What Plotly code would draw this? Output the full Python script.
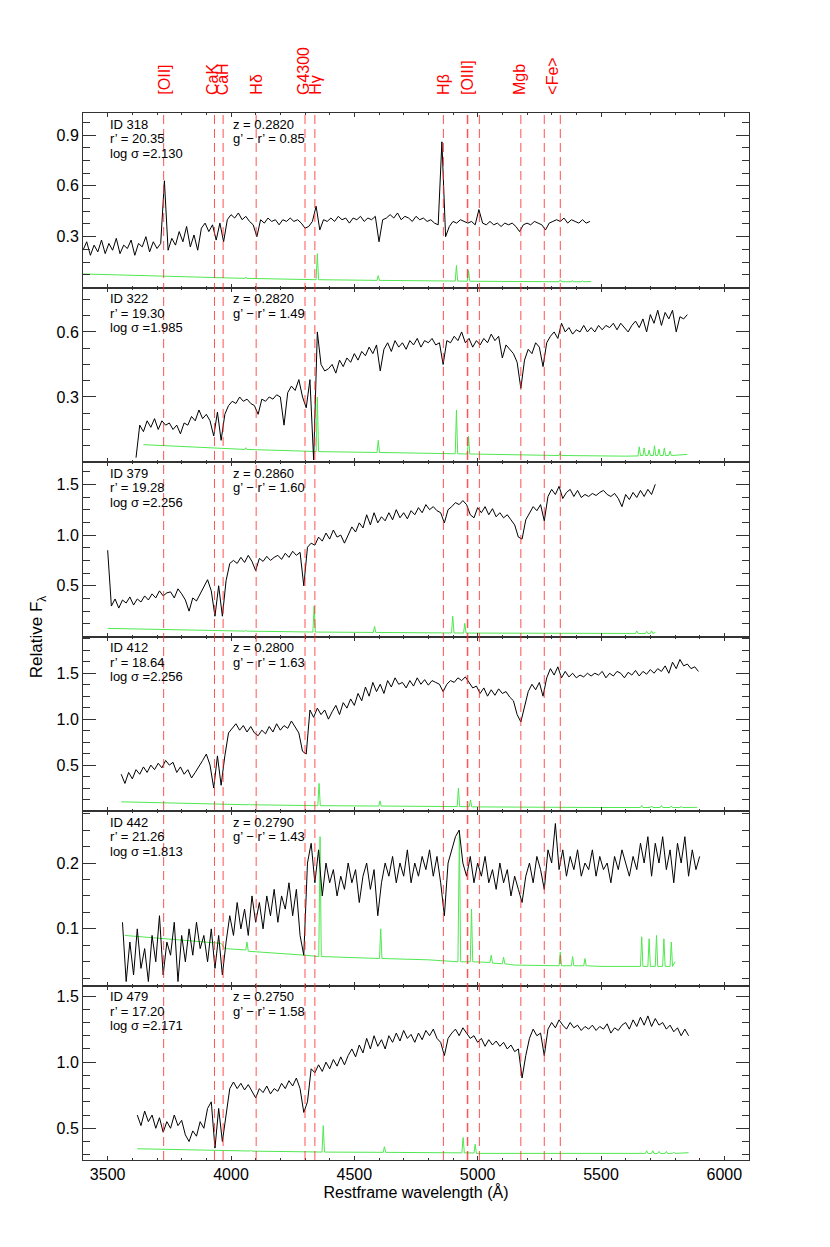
import plotly.graph_objects as go
from plotly.subplots import make_subplots

# spectral features (restframe, Angstrom)
FEATURE_WAVE = [3727, 3933, 3968, 4102, 4300, 4340, 4861, 4959, 5007, 5175, 5270, 5335]
LABEL_WAVE = [3727, 3925, 3965, 4102, 4292, 4340, 4861, 4959, 5170, 5302]
LABEL_TEXT = ["[OII]", "CaK", "CaH", "Hδ", "G4300", "Hγ", "Hβ", "[OIII]", "Mgb", "&lt;Fe&gt;"]

# galaxy info per panel
GAL_ID = ["318", "322", "379", "412", "442", "479"]
R_MAG = ["20.35", "19.30", "19.28", "18.64", "21.26", "17.20"]
LOG_SIGMA = ["2.130", "1.985", "2.256", "2.256", "1.813", "2.171"]
REDSHIFT = ["0.2820", "0.2820", "0.2860", "0.2800", "0.2790", "0.2750"]
G_R = ["0.85", "1.49", "1.60", "1.63", "1.43", "1.58"]

# panel y ranges and ticks
Y_RANGE = [[0, 1.03], [0, 0.805], [0, 1.72], [0, 1.9], [0.014, 0.279], [0.26, 1.58]]
Y_TICKS = [[0.3, 0.6, 0.9], [0.3, 0.6], [0.5, 1.0, 1.5], [0.5, 1.0, 1.5], [0.1, 0.2], [0.5, 1.0, 1.5]]
Y_MINOR = [0.075, 0.075, 0.125, 0.125, 0.025, 0.1]

STEP = 15  # Angstrom sampling of the object spectra

start_318 = 3400
flux_318 = [0.22, 0.27, 0.19, 0.25, 0.21, 0.28, 0.2, 0.26, 0.22, 0.29, 0.2, 0.25, 0.23, 0.28, 0.19, 0.26,
            0.24, 0.3, 0.21, 0.27, 0.23, 0.26, 0.63, 0.22, 0.29, 0.25, 0.33, 0.27, 0.36, 0.24, 0.31, 0.22,
            0.35, 0.38, 0.33, 0.37, 0.28, 0.38, 0.27, 0.4, 0.43, 0.41, 0.44, 0.4, 0.42, 0.39, 0.37, 0.3,
            0.4, 0.38, 0.41, 0.39, 0.4, 0.37, 0.4, 0.39, 0.41, 0.39, 0.4, 0.38, 0.35, 0.36, 0.39, 0.48,
            0.34, 0.4, 0.39, 0.41, 0.39, 0.42, 0.4, 0.41, 0.38, 0.41, 0.4, 0.42, 0.39, 0.41, 0.4, 0.42,
            0.27, 0.4, 0.41, 0.43, 0.41, 0.44, 0.4, 0.42, 0.41, 0.39, 0.42, 0.4, 0.41, 0.39, 0.4, 0.38,
            0.37, 0.86, 0.3, 0.36, 0.39, 0.38, 0.4, 0.39, 0.38, 0.39, 0.37, 0.46, 0.38, 0.37, 0.39, 0.37,
            0.38, 0.36, 0.38, 0.37, 0.38, 0.36, 0.33, 0.37, 0.38, 0.37, 0.39, 0.38, 0.37, 0.34, 0.38, 0.39,
            0.4, 0.39, 0.41, 0.38, 0.4, 0.39, 0.38, 0.4, 0.38, 0.39]

start_322 = 3615
flux_322 = [0.02, 0.17, 0.14, 0.19, 0.16, 0.2, 0.15, 0.19, 0.17, 0.18, 0.15, 0.17, 0.13, 0.18, 0.17, 0.21,
            0.19, 0.24, 0.2, 0.22, 0.19, 0.12, 0.23, 0.1, 0.22, 0.26, 0.28, 0.27, 0.3, 0.28, 0.29, 0.27,
            0.26, 0.22, 0.29, 0.28, 0.3, 0.29, 0.31, 0.3, 0.17, 0.32, 0.35, 0.33, 0.38, 0.3, 0.25, 0.38,
            0.01, 0.6, 0.45, 0.42, 0.43, 0.45, 0.41, 0.47, 0.44, 0.48, 0.46, 0.5, 0.47, 0.51, 0.49, 0.53,
            0.5, 0.54, 0.42, 0.52, 0.55, 0.51, 0.56, 0.53, 0.55, 0.52, 0.56, 0.54, 0.57, 0.53, 0.56, 0.55,
            0.57, 0.54, 0.55, 0.45, 0.56, 0.55, 0.58, 0.56, 0.6, 0.55, 0.57, 0.53, 0.56, 0.54, 0.57, 0.55,
            0.59, 0.56, 0.58, 0.48, 0.54, 0.52, 0.5, 0.46, 0.34, 0.47, 0.52, 0.5, 0.55, 0.53, 0.44, 0.55,
            0.58, 0.6, 0.57, 0.64, 0.6, 0.62, 0.59, 0.61, 0.6, 0.63, 0.6, 0.62, 0.6, 0.63, 0.61, 0.63,
            0.62, 0.64, 0.61, 0.64, 0.62, 0.6, 0.63, 0.65, 0.62, 0.66, 0.6, 0.68, 0.64, 0.7, 0.63, 0.69,
            0.66, 0.7, 0.6, 0.67, 0.66, 0.68]

start_379 = 3500
flux_379 = [0.85, 0.3, 0.37, 0.28, 0.36, 0.33, 0.39, 0.31, 0.37, 0.34, 0.4, 0.36, 0.42, 0.38, 0.45, 0.4,
            0.43, 0.44, 0.38, 0.47, 0.42, 0.36, 0.25, 0.38, 0.35, 0.42, 0.5, 0.56, 0.45, 0.2, 0.5, 0.2,
            0.55, 0.72, 0.75, 0.72, 0.78, 0.73, 0.8, 0.74, 0.65, 0.77, 0.74, 0.79, 0.75, 0.78, 0.8, 0.76,
            0.82, 0.78, 0.84, 0.8, 0.83, 0.5, 0.88, 0.92, 0.9, 0.98, 0.94, 1.02, 0.96, 1.05, 0.98, 1.0,
            0.92, 1.0, 1.08, 1.03, 1.12, 1.07, 1.2, 1.1, 1.22, 1.12, 1.18, 1.14, 1.22, 1.15, 1.25, 1.17,
            1.22, 1.16, 1.24, 1.2, 1.27, 1.22, 1.3, 1.25, 1.28, 1.24, 1.22, 1.12, 1.25, 1.28, 1.32, 1.3,
            1.34, 1.3, 1.2, 1.17, 1.27, 1.22, 1.28, 1.2, 1.26, 1.18, 1.22, 1.17, 1.2, 1.15, 1.1, 0.98,
            0.96, 1.15, 1.22, 1.28, 1.24, 1.3, 1.14, 1.38, 1.45, 1.4, 1.48, 1.36, 1.42, 1.45, 1.38, 1.44,
            1.37, 1.4, 1.38, 1.41, 1.39, 1.42, 1.44, 1.4, 1.38, 1.41, 1.36, 1.28, 1.4, 1.35, 1.42, 1.37,
            1.44, 1.38, 1.45, 1.4, 1.5]

start_412 = 3555
flux_412 = [0.4, 0.3, 0.42, 0.35, 0.45, 0.4, 0.48, 0.42, 0.5, 0.45, 0.52, 0.47, 0.55, 0.5, 0.53, 0.42,
            0.48, 0.4, 0.45, 0.36, 0.42, 0.48, 0.55, 0.62, 0.5, 0.25, 0.6, 0.28, 0.6, 0.85, 0.9, 0.95,
            0.88, 0.93, 0.86, 0.92, 0.85, 0.82, 0.88, 0.84, 0.92, 0.86, 0.95, 0.88, 0.93, 0.9, 0.98, 0.92,
            0.85, 0.65, 0.62, 1.1, 1.02, 1.12, 1.05, 1.1, 1.0, 1.08, 1.15, 1.05, 1.18, 1.12, 1.22, 1.15,
            1.28, 1.2, 1.35, 1.25, 1.4, 1.3, 1.38, 1.28, 1.42, 1.35, 1.45, 1.38, 1.4, 1.34, 1.42, 1.36,
            1.45, 1.38, 1.43, 1.37, 1.42, 1.4, 1.38, 1.3, 1.38, 1.42, 1.4, 1.45, 1.42, 1.46, 1.4, 1.34,
            1.36, 1.28, 1.34, 1.25, 1.32, 1.26, 1.33, 1.28, 1.3, 1.24, 1.2, 1.05, 0.97, 1.15, 1.3, 1.38,
            1.32, 1.4, 1.25, 1.45, 1.55, 1.48, 1.57, 1.45, 1.52, 1.46, 1.5, 1.45, 1.48, 1.46, 1.5, 1.47,
            1.5, 1.48, 1.52, 1.45, 1.5, 1.47, 1.52, 1.5, 1.45, 1.51, 1.48, 1.53, 1.47, 1.52, 1.49, 1.54,
            1.5, 1.55, 1.52, 1.58, 1.5, 1.62, 1.55, 1.65, 1.58, 1.6, 1.55, 1.57, 1.52]

start_442 = 3560
flux_442 = [0.11, 0.02, 0.08, 0.03, 0.1, 0.04, 0.07, 0.02, 0.09, 0.05, 0.12, 0.03, 0.08, 0.06, 0.11, 0.02,
            0.09, 0.05, 0.1, 0.06, 0.11, 0.07, 0.09, 0.05, 0.1, 0.04, 0.09, 0.03, 0.08, 0.12, 0.09, 0.14,
            0.1, 0.13, 0.09, 0.15, 0.11, 0.14, 0.1, 0.15, 0.12, 0.16, 0.11, 0.15, 0.13, 0.17, 0.12, 0.16,
            0.09, 0.06, 0.2, 0.23, 0.17, 0.22, 0.15, 0.2, 0.17, 0.19, 0.15, 0.18, 0.16, 0.2, 0.17, 0.19,
            0.14, 0.18, 0.2, 0.16, 0.19, 0.12, 0.17, 0.2, 0.18, 0.21, 0.17, 0.2, 0.18, 0.22, 0.17, 0.2,
            0.18, 0.21, 0.19, 0.22, 0.18, 0.21, 0.17, 0.12, 0.2, 0.22, 0.24, 0.25, 0.2, 0.18, 0.21, 0.17,
            0.2, 0.18, 0.21, 0.17, 0.19, 0.16, 0.2, 0.17, 0.19, 0.15, 0.18, 0.16, 0.14, 0.18, 0.2, 0.17,
            0.21, 0.19, 0.16, 0.22, 0.2, 0.26, 0.19, 0.22, 0.18, 0.21, 0.19, 0.22, 0.18, 0.2, 0.19, 0.22,
            0.18, 0.21, 0.19, 0.2, 0.17, 0.21, 0.19, 0.22, 0.2, 0.18, 0.21, 0.19, 0.23, 0.2, 0.24, 0.18,
            0.23, 0.2, 0.24, 0.19, 0.22, 0.17, 0.23, 0.2, 0.24, 0.18, 0.22, 0.19, 0.21]

start_479 = 3620
flux_479 = [0.6, 0.52, 0.63, 0.55, 0.6, 0.5, 0.58, 0.47, 0.55, 0.5, 0.6, 0.52, 0.56, 0.45, 0.4, 0.48,
            0.44, 0.55, 0.5, 0.65, 0.7, 0.35, 0.65, 0.4, 0.6, 0.8, 0.85, 0.8, 0.84, 0.79, 0.83, 0.78,
            0.73, 0.8, 0.77, 0.82, 0.76, 0.8, 0.78, 0.84, 0.8, 0.86, 0.82, 0.88, 0.8, 0.62, 0.7, 0.95,
            0.92, 0.98, 0.93, 1.0, 0.95, 1.02, 0.97, 1.04, 0.98, 1.05, 1.1, 1.04, 1.13, 1.07, 1.18, 1.1,
            1.2, 1.12, 1.17, 1.1, 1.2, 1.15, 1.22, 1.16, 1.24, 1.18, 1.21, 1.15, 1.22, 1.17, 1.24, 1.2,
            1.25, 1.18, 1.15, 1.05, 1.18, 1.22, 1.25, 1.2, 1.26, 1.22, 1.18, 1.2, 1.15, 1.18, 1.12, 1.17,
            1.13, 1.16, 1.12, 1.15, 1.1, 1.13, 1.08, 1.1, 0.88, 1.05, 1.18, 1.25, 1.2, 1.22, 1.05, 1.25,
            1.3, 1.26, 1.32, 1.28, 1.25, 1.3, 1.26, 1.28, 1.24, 1.27, 1.25, 1.28, 1.24, 1.27, 1.25, 1.29,
            1.22, 1.26, 1.24, 1.28, 1.3, 1.25, 1.32, 1.27, 1.34, 1.28, 1.35, 1.27, 1.33, 1.28, 1.3, 1.25,
            1.28, 1.23, 1.26, 1.2, 1.25, 1.2]

# sky spectra (scaled), knots
sky_wave_318 = [3400, 3700, 4000, 4056, 4060, 4064, 4300, 4345, 4350, 4355, 4592, 4597, 4602, 4800, 4909,
                4914, 4919, 4958, 4963, 4968, 5200, 5330, 5335, 5340, 5380, 5384, 5388, 5420, 5424, 5428, 5460]
sky_flux_318 = [0.08, 0.066, 0.056, 0.054, 0.062, 0.054, 0.048, 0.046, 0.2, 0.046, 0.042, 0.07, 0.042, 0.04,
                0.038, 0.13, 0.038, 0.037, 0.1, 0.037, 0.035, 0.034, 0.046, 0.034, 0.034, 0.042, 0.034, 0.034,
                0.04, 0.034, 0.035]

sky_wave_322 = [3645, 4000, 4056, 4060, 4064, 4300, 4345, 4350, 4355, 4592, 4597, 4602, 4800, 4909, 4914,
                4919, 4958, 4963, 4968, 5200, 5330, 5335, 5340, 5600, 5650, 5655, 5660, 5670, 5675, 5680,
                5690, 5695, 5700, 5712, 5717, 5722, 5730, 5735, 5740, 5752, 5757, 5762, 5775, 5780, 5785, 5850]
sky_flux_322 = [0.08, 0.06, 0.058, 0.066, 0.058, 0.05, 0.048, 0.3, 0.048, 0.044, 0.1, 0.044, 0.04, 0.038,
                0.24, 0.038, 0.037, 0.12, 0.037, 0.033, 0.03, 0.042, 0.03, 0.027, 0.028, 0.07, 0.03, 0.03,
                0.065, 0.03, 0.03, 0.055, 0.03, 0.03, 0.075, 0.03, 0.03, 0.06, 0.03, 0.03, 0.065, 0.03,
                0.03, 0.05, 0.03, 0.035]

sky_wave_379 = [3500, 3800, 4000, 4056, 4060, 4064, 4300, 4332, 4337, 4342, 4577, 4582, 4587, 4800, 4894,
                4899, 4904, 4943, 4948, 4953, 5200, 5500, 5640, 5645, 5650, 5680, 5685, 5690, 5700, 5705,
                5710, 5720]
sky_flux_379 = [0.08, 0.065, 0.055, 0.053, 0.06, 0.053, 0.045, 0.044, 0.3, 0.044, 0.04, 0.1, 0.04, 0.037,
                0.035, 0.2, 0.035, 0.034, 0.13, 0.034, 0.03, 0.03, 0.03, 0.055, 0.03, 0.03, 0.05, 0.03, 0.03,
                0.055, 0.03, 0.04]

sky_wave_412 = [3555, 3800, 4000, 4070, 4074, 4078, 4300, 4352, 4357, 4362, 4599, 4604, 4609, 4800, 4917,
                4922, 4927, 4966, 4971, 4976, 5200, 5500, 5660, 5665, 5670, 5700, 5705, 5710, 5740, 5745,
                5750, 5780, 5785, 5790, 5820, 5825, 5830, 5890]
sky_flux_412 = [0.1, 0.085, 0.07, 0.068, 0.075, 0.068, 0.06, 0.058, 0.3, 0.058, 0.054, 0.11, 0.054, 0.05,
                0.048, 0.25, 0.048, 0.047, 0.12, 0.045, 0.04, 0.038, 0.038, 0.06, 0.038, 0.038, 0.055, 0.038,
                0.038, 0.06, 0.038, 0.038, 0.055, 0.038, 0.038, 0.05, 0.038, 0.04]

sky_wave_442 = [3570, 3900, 3960, 3975, 4060, 4065, 4070, 4300, 4356, 4361, 4366, 4602, 4607, 4612, 4800,
                4920, 4926, 4931, 4970, 4975, 4980, 5050, 5055, 5060, 5100, 5105, 5110, 5150, 5330, 5335,
                5340, 5380, 5385, 5390, 5430, 5435, 5440, 5500, 5600, 5660, 5665, 5670, 5690, 5695, 5700,
                5720, 5725, 5730, 5750, 5755, 5760, 5780, 5785, 5790, 5800]
sky_flux_442 = [0.09, 0.08, 0.078, 0.07, 0.068, 0.08, 0.066, 0.06, 0.058, 0.24, 0.058, 0.055, 0.1, 0.055,
                0.053, 0.05, 0.25, 0.05, 0.05, 0.13, 0.05, 0.049, 0.06, 0.048, 0.047, 0.057, 0.047, 0.045,
                0.044, 0.065, 0.044, 0.044, 0.058, 0.044, 0.044, 0.055, 0.044, 0.043, 0.043, 0.043, 0.088,
                0.043, 0.043, 0.085, 0.043, 0.043, 0.09, 0.043, 0.043, 0.085, 0.043, 0.043, 0.08, 0.043, 0.05]

sky_wave_479 = [3620, 4000, 4076, 4080, 4084, 4300, 4369, 4374, 4379, 4617, 4622, 4627, 4800, 4936, 4941,
                4946, 4985, 4990, 4995, 5200, 5600, 5680, 5685, 5690, 5705, 5710, 5715, 5730, 5735, 5740,
                5760, 5765, 5770, 5790, 5795, 5800, 5855]
sky_flux_479 = [0.345, 0.33, 0.328, 0.335, 0.327, 0.322, 0.32, 0.52, 0.32, 0.318, 0.36, 0.318, 0.316, 0.314,
                0.43, 0.314, 0.313, 0.38, 0.31, 0.31, 0.31, 0.31, 0.33, 0.31, 0.31, 0.33, 0.31, 0.31, 0.325,
                0.31, 0.31, 0.325, 0.31, 0.31, 0.32, 0.31, 0.315]

panels = [
    (start_318, flux_318, sky_wave_318, sky_flux_318),
    (start_322, flux_322, sky_wave_322, sky_flux_322),
    (start_379, flux_379, sky_wave_379, sky_flux_379),
    (start_412, flux_412, sky_wave_412, sky_flux_412),
    (start_442, flux_442, sky_wave_442, sky_flux_442),
    (start_479, flux_479, sky_wave_479, sky_flux_479),
]

FONT = "Liberation Sans, Arial, Helvetica, sans-serif"
GREEN = "rgb(80,232,80)"
FRAME = "#333333"
RED_LINE = "rgba(255,40,40,0.8)"

fig = make_subplots(rows=6, cols=1, shared_xaxes=True, vertical_spacing=0)

for k, (start, flux, sky_w, sky_f) in enumerate(panels):
    row = k + 1
    wave = [start + STEP * i for i in range(len(flux))]
    fig.add_trace(go.Scatter(x=sky_w, y=sky_f, mode="lines",
                             line=dict(color=GREEN, width=1), showlegend=False), row=row, col=1)
    fig.add_trace(go.Scatter(x=wave, y=flux, mode="lines",
                             line=dict(color="black", width=1), showlegend=False), row=row, col=1)

    fig.update_yaxes(range=Y_RANGE[k], tickmode="array", tickvals=Y_TICKS[k],
                     ticktext=["%.1f" % v for v in Y_TICKS[k]],
                     ticks="inside", ticklen=13, tickcolor=FRAME, mirror="ticks",
                     showline=True, linecolor=FRAME, linewidth=1, showgrid=False, zeroline=False,
                     tickfont=dict(family=FONT, size=16, color="black"),
                     minor=dict(dtick=Y_MINOR[k], tick0=0, ticks="inside", ticklen=7,
                                tickcolor=FRAME, showgrid=False),
                     row=row, col=1)
    fig.update_xaxes(range=[3400, 6100], tick0=3500, dtick=500,
                     ticks="inside", ticklen=4, tickcolor=FRAME, mirror="ticks",
                     showline=True, linecolor=FRAME, linewidth=1, showgrid=False, zeroline=False,
                     tickfont=dict(family=FONT, size=16, color="black"),
                     minor=dict(dtick=100, ticks="inside", ticklen=2, tickcolor=FRAME, showgrid=False),
                     row=row, col=1)

    yref = "y domain" if row == 1 else "y%d domain" % row
    xref = "x" if row == 1 else "x%d" % row
    left = ["ID " + GAL_ID[k], "r’ = " + R_MAG[k], "log σ =" + LOG_SIGMA[k]]
    right = ["z = " + REDSHIFT[k], "g’ − r’ = " + G_R[k]]
    for j, txt in enumerate(left):
        fig.add_annotation(x=3500, y=1, xref=xref, yref=yref, text=txt, showarrow=False,
                           xanchor="left", yanchor="middle", yshift=-11 - 14.5 * j,
                           font=dict(family=FONT, size=13, color="black"))
    for j, txt in enumerate(right):
        fig.add_annotation(x=4000, y=1, xref=xref, yref=yref, text=txt, showarrow=False,
                           xanchor="left", yanchor="middle", yshift=-11 - 14.5 * j,
                           font=dict(family=FONT, size=13, color="black"))

fig.update_xaxes(title=dict(text="Restframe wavelength (Å)", font=dict(family=FONT, size=16, color="black"),
                            standoff=4), row=6, col=1)

for w in FEATURE_WAVE:
    fig.add_shape(type="line", x0=w, x1=w, xref="x", y0=0, y1=1, yref="paper",
                  line=dict(color=RED_LINE, width=1.5 if w == 4959 else 1, dash="9px,5px"),
                  layer="above")

for w, txt in zip(LABEL_WAVE, LABEL_TEXT):
    fig.add_annotation(x=w, y=1, xref="x", yref="paper", text=txt, showarrow=False,
                       textangle=-90, xanchor="center", yanchor="bottom", yshift=16,
                       font=dict(family=FONT, size=16, color="red"))

fig.add_annotation(x=-0.068, y=0.5, xref="paper", yref="paper", text="Relative F<sub>λ</sub>",
                   showarrow=False, textangle=-90, xanchor="center", yanchor="middle",
                   font=dict(family=FONT, size=17, color="black"))

# page body adds an 8 px offset, so the margins are shifted up/left to compensate
fig.update_layout(width=830, height=1247, margin=dict(l=75, r=89, t=105, b=95),
                  plot_bgcolor="rgba(0,0,0,0)", paper_bgcolor="white", showlegend=False)

fig.write_html("out.html")
